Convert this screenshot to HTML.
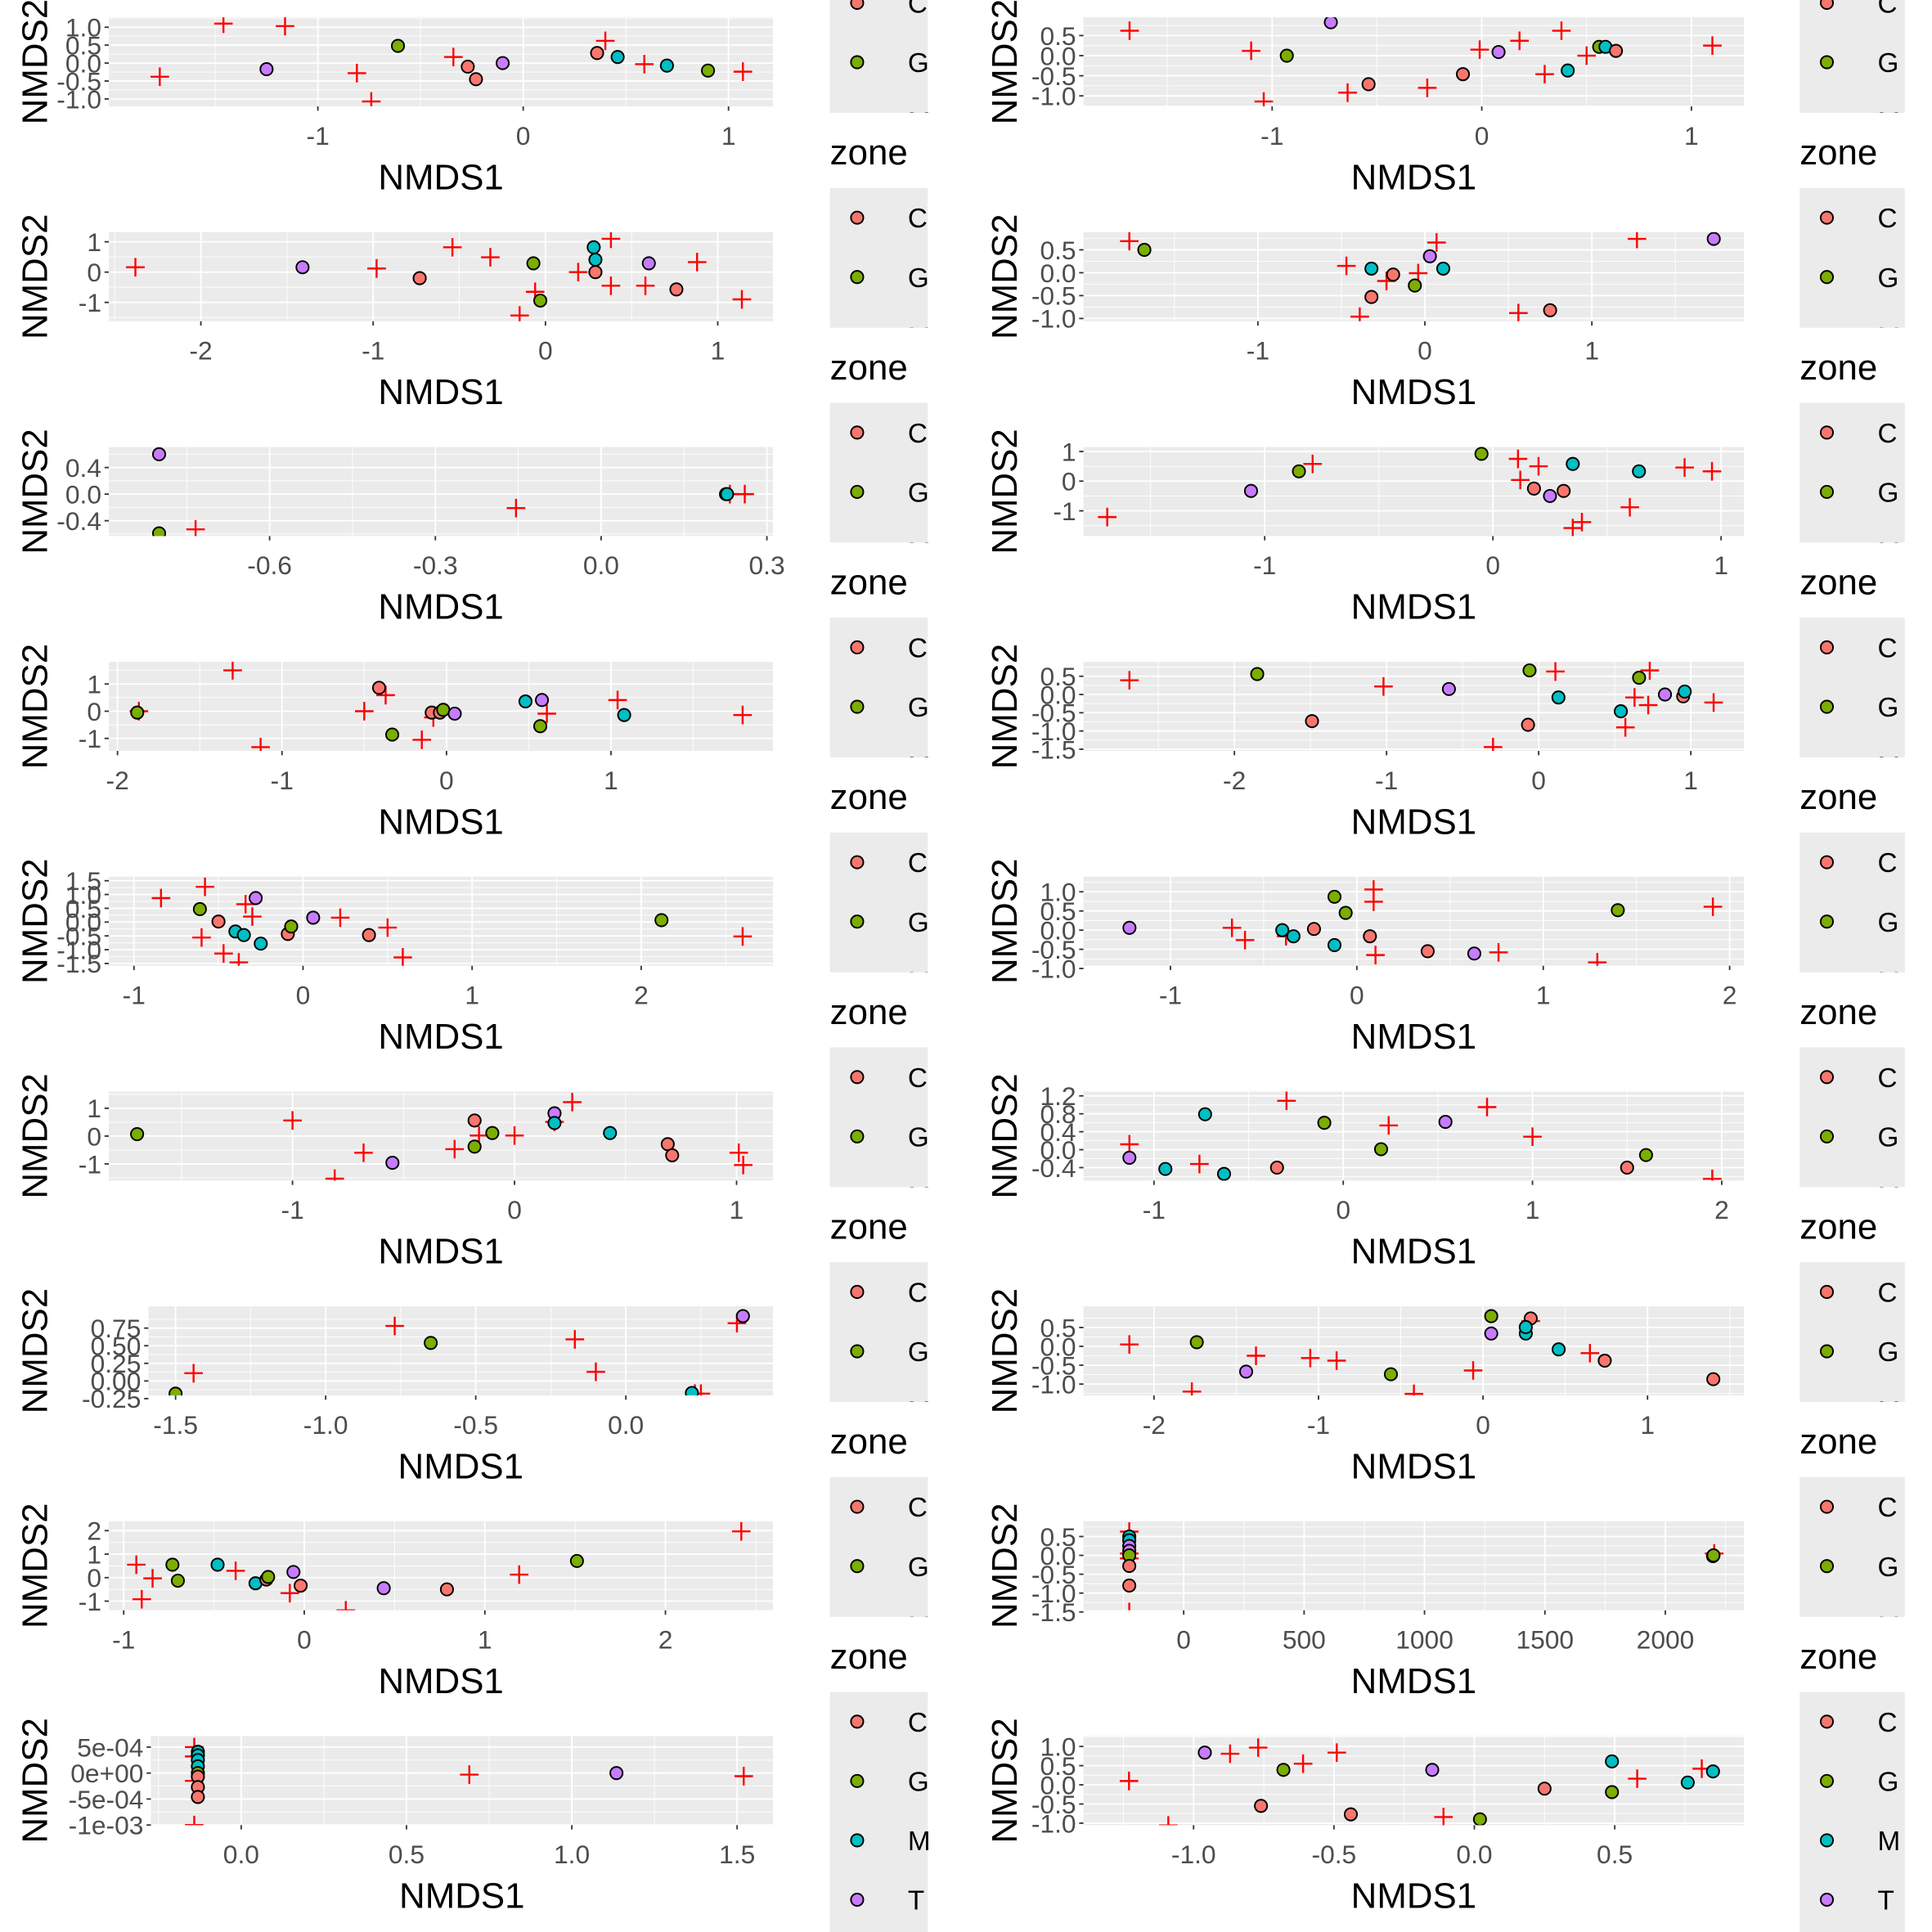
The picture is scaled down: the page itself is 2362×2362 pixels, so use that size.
<!DOCTYPE html>
<html><head><meta charset="utf-8"><style>
html,body{margin:0;padding:0;background:#fff}
svg{display:block}
text{font-family:"Liberation Sans",Arial,sans-serif}
</style></head><body>
<svg id="fig" xmlns="http://www.w3.org/2000/svg" width="2362" height="2362" viewBox="0 0 1562 1562"></svg>
<script>
// ---- data (sites: x, y, zone letter; species crosses: x, y) ----
const P1X=[-1.25,-0.61,-0.27,-0.23,-0.1,0.36,0.46,0.70,0.90];
const P1Y=[-0.17,0.48,-0.1,-0.45,0,0.28,0.17,-0.07,-0.21];
const P1Z="TGCCTCMMG";
const P1SX=[-1.46,-1.16,-1.77,-0.81,-0.74,-0.34,0.40,0.59,1.07];
const P1SY=[1.1,1.03,-0.38,-0.28,-1.07,0.17,0.62,-0.03,-0.24];
const P2X=[-0.72,-0.93,-0.54,-0.09,0.08,0.41,0.56,0.59,0.64];
const P2Y=[0.83,0,-0.71,-0.46,0.09,-0.37,0.22,0.22,0.12];
const P2Z="TGCCTMGMC";
const P2SX=[-1.68,-1.10,-1.04,-0.64,-0.26,-0.01,0.18,0.30,0.38,0.50,1.10];
const P2SY=[0.62,0.12,-1.14,-0.92,-0.8,0.15,0.37,-0.46,0.62,0,0.25];
const P3X=[-1.41,-0.73,-0.07,-0.03,0.28,0.29,0.29,0.60,0.76];
const P3Y=[0.16,-0.2,0.29,-0.94,0.82,0.41,0,0.29,-0.57];
const P3Z="TCGGMMCTC";
const P3SX=[-2.38,-0.98,-0.54,-0.32,-0.15,-0.06,0.19,0.38,0.38,0.58,0.88,1.14];
const P3SY=[0.16,0.12,0.82,0.49,-1.43,-0.65,0,1.1,-0.45,-0.45,0.33,-0.9];
const P4X=[-1.68,-0.32,-0.19,-0.32,-0.06,0.03,0.11,0.75,1.73];
const P4Y=[0.5,0.09,-0.04,-0.53,-0.28,0.36,0.09,-0.82,0.74];
const P4Z="GMCCGTMCT";
const P4SX=[-1.77,-0.47,-0.39,-0.23,-0.04,0.07,0.56,1.27];
const P4SY=[0.69,0.15,-0.96,-0.18,-0.01,0.66,-0.88,0.74];
const P5X=[-0.80,-0.80,0.226,0.228];
const P5Y=[0.6,-0.59,0,0];
const P5Z="TGCM";
const P5SX=[-0.734,-0.154,0.233,0.26];
const P5SY=[-0.53,-0.21,0,0];
const P6X=[-1.06,-0.85,-0.05,0.35,0.64,0.18,0.25,0.31];
const P6Y=[-0.33,0.33,0.92,0.58,0.33,-0.25,-0.5,-0.33];
const P6Z="TGGMMCTC";
const P6SX=[-1.69,-0.79,0.11,0.20,0.12,0.35,0.39,0.60,0.84,0.96];
const P6SY=[-1.21,0.58,0.75,0.5,0.04,-1.58,-1.38,-0.88,0.46,0.33];
const P7X=[-1.88,-0.41,-0.33,-0.09,-0.04,-0.02,0.05,0.48,0.58,0.57,1.08];
const P7Y=[-0.05,0.86,-0.86,-0.05,-0.05,0.05,-0.09,0.36,0.41,-0.55,-0.14];
const P7Z="GCGCCGTMTGM";
const P7SX=[-1.87,-1.30,-1.13,-0.50,-0.37,-0.15,-0.08,0.61,1.04,1.80];
const P7SY=[0,1.5,-1.32,0,0.59,-1.05,-0.23,-0.09,0.41,-0.14];
const P8X=[-1.85,-1.49,-0.59,-0.06,-0.07,0.13,0.54,0.66,0.95,0.83,0.96];
const P8Y=[0.56,-0.73,0.15,0.66,-0.83,-0.08,-0.46,0.46,-0.05,0,0.08];
const P8Z="GCTGCMMGCTM";
const P8SX=[-2.69,-1.02,-0.30,0.11,0.57,0.63,0.72,0.73,1.15];
const P8SY=[0.39,0.22,-1.44,0.63,-0.9,-0.08,-0.29,0.66,-0.22];
const P9X=[-0.28,-0.61,-0.50,-0.40,-0.35,-0.25,-0.09,-0.07,0.06,0.39,2.12];
const P9Y=[0.87,0.47,0.02,-0.34,-0.47,-0.78,-0.43,-0.16,0.16,-0.47,0.07];
const P9Z="TGCMMMCGTCG";
const P9SX=[-0.84,-0.58,-0.34,-0.30,-0.60,-0.47,-0.38,0.22,0.50,0.59,2.60];
const P9SY=[0.87,1.28,0.65,0.2,-0.56,-1.14,-1.46,0.16,-0.2,-1.28,-0.52];
const P10X=[-1.22,-0.12,-0.06,-0.23,-0.40,-0.34,-0.12,0.07,0.38,0.63,1.40];
const P10Y=[0.06,0.87,0.45,0.03,0,-0.16,-0.39,-0.16,-0.55,-0.61,0.52];
const P10Z="TGGCMMMCCTG";
const P10SX=[-0.67,-0.60,-0.38,0.09,0.09,0.10,0.76,1.29,1.91];
const P10SY=[0.06,-0.26,-0.16,1.06,0.74,-0.65,-0.58,-0.84,0.61];
const P11X=[-1.70,-0.55,-0.18,-0.18,-0.10,0.18,0.18,0.43,0.69,0.71];
const P11Y=[0.07,-0.96,0.56,-0.38,0.11,0.82,0.47,0.11,-0.29,-0.69];
const P11Z="GTCGGTMMCC";
const P11SX=[-1.0,-0.81,-0.68,-0.27,-0.16,0,0.18,0.26,1.01,1.03];
const P11SY=[0.56,-1.53,-0.6,-0.47,0.02,0.02,0.51,1.22,-0.6,-1.04];
const P12X=[-1.13,-0.94,-0.73,-0.63,-0.35,-0.10,0.20,0.54,1.50,1.60];
const P12Y=[-0.18,-0.43,0.79,-0.54,-0.4,0.6,0.01,0.62,-0.4,-0.12];
const P12Z="TMMMCGGTCG";
const P12SX=[-1.13,-0.76,-0.30,0.24,0.76,1.0,1.95];
const P12SY=[0.12,-0.32,1.09,0.54,0.95,0.29,-0.65];
const P13X=[-1.50,-0.65,0.22,0.39];
const P13Y=[-0.18,0.54,-0.17,0.92];
const P13Z="GGMT";
const P13SX=[-1.44,-0.77,-0.17,-0.10,0.23,0.25,0.37];
const P13SY=[0.11,0.78,0.59,0.13,-0.18,-0.18,0.82];
const P14X=[-1.74,-1.44,-0.56,0.05,0.29,0.05,0.26,0.26,0.46,0.74,1.40];
const P14Y=[0.11,-0.67,-0.74,0.8,0.74,0.34,0.34,0.51,-0.08,-0.38,-0.87];
const P14Z="GTGGCTMMMCC";
const P14SX=[-2.15,-1.77,-1.38,-1.05,-0.89,-0.42,-0.06,0.29,0.65];
const P14SY=[0.05,-1.2,-0.25,-0.31,-0.38,-1.26,-0.64,0.67,-0.18];
const P15X=[-0.73,-0.70,-0.48,-0.27,-0.21,-0.20,-0.06,-0.02,0.44,0.79,1.51];
const P15Y=[0.55,-0.13,0.55,-0.24,-0.08,0.03,0.24,-0.34,-0.45,-0.5,0.71];
const P15Z="GGMMCGTCTCG";
const P15SX=[-0.93,-0.84,-0.90,-0.38,-0.08,0.23,1.19,2.42];
const P15SY=[0.55,-0.03,-0.92,0.29,-0.66,-1.39,0.13,1.97];
const P16X=[-226,-226,-226,-226,-226,-226,-226,2198,2200];
const P16Y=[0.5,0.4,0.25,0.12,0,-0.28,-0.8,-0.02,0];
const P16Z="MMTTGCCCG";
const P16SX=[-226,-226,-226,-226,2203];
const P16SY=[0.63,0.05,-0.08,-1.5,0.05];
const P17X=[-0.131,-0.131,-0.131,-0.131,-0.131,-0.131,-0.131,-0.131,1.135];
const P17Y=[4.1e-4,3.4e-4,2.5e-4,1.3e-4,0,-0.7e-4,-2.7e-4,-4.6e-4,0];
const P17Z="MMMMGCCCT";
const P17SX=[-0.142,-0.142,-0.142,-0.142,0.69,1.52];
const P17SY=[5e-4,3.2e-4,-1.5e-4,-1e-3,-0.3e-4,-0.6e-4];
const P18X=[-0.96,-0.68,-0.76,-0.44,-0.15,0.25,0.49,0.49,0.76,0.85,0.02];
const P18Y=[0.84,0.39,-0.55,-0.77,0.39,-0.1,0.61,-0.19,0.06,0.35,-0.9];
const P18Z="TGCCTCMGMMG";
const P18SX=[-1.23,-1.09,-0.87,-0.77,-0.61,-0.49,-0.11,0.58,0.81];
const P18SY=[0.1,-1.06,0.81,0.97,0.55,0.84,-0.84,0.16,0.42];
// tick values / labels
const XT=[[-1,0,1],[-1,0,1],[-2,-1,0,1],[-1,0,1],[-0.6,-0.3,0,0.3],[-1,0,1],[-2,-1,0,1],[-2,-1,0,1],[-1,0,1,2],[-1,0,1,2],[-1,0,1],[-1,0,1,2],[-1.5,-1,-0.5,0],[-2,-1,0,1],[-1,0,1,2],[0,500,1000,1500,2000],[0,0.5,1,1.5],[-1,-0.5,0,0.5]];
const XL=[["-1","0","1"],["-1","0","1"],["-2","-1","0","1"],["-1","0","1"],["-0.6","-0.3","0.0","0.3"],["-1","0","1"],["-2","-1","0","1"],["-2","-1","0","1"],["-1","0","1","2"],["-1","0","1","2"],["-1","0","1"],["-1","0","1","2"],["-1.5","-1.0","-0.5","0.0"],["-2","-1","0","1"],["-1","0","1","2"],["0","500","1000","1500","2000"],["0.0","0.5","1.0","1.5"],["-1.0","-0.5","0.0","0.5"]];
const YT=[[-1,-0.5,0,0.5,1],[-1,-0.5,0,0.5],[-1,0,1],[-1,-0.5,0,0.5],[-0.4,0,0.4],[-1,0,1],[-1,0,1],[-1.5,-1,-0.5,0,0.5],[-1.5,-1,-0.5,0,0.5,1,1.5],[-1,-0.5,0,0.5,1],[-1,0,1],[-0.4,0,0.4,0.8,1.2],[-0.25,0,0.25,0.5,0.75],[-1,-0.5,0,0.5],[-1,0,1,2],[-1.5,-1,-0.5,0,0.5],[-1e-3,-5e-4,0,5e-4],[-1,-0.5,0,0.5,1]];
const YL=[["-1.0","-0.5","0.0","0.5","1.0"],["-1.0","-0.5","0.0","0.5"],["-1","0","1"],["-1.0","-0.5","0.0","0.5"],["-0.4","0.0","0.4"],["-1","0","1"],["-1","0","1"],["-1.5","-1.0","-0.5","0.0","0.5"],["-1.5","-1.0","-0.5","0.0","0.5","1.0","1.5"],["-1.0","-0.5","0.0","0.5","1.0"],["-1","0","1"],["-0.4","0.0","0.4","0.8","1.2"],["-0.25","0.00","0.25","0.50","0.75"],["-1.0","-0.5","0.0","0.5"],["-1","0","1","2"],["-1.5","-1.0","-0.5","0.0","0.5"],["-1e-03","-5e-04","0e+00","5e-04"],["-1.0","-0.5","0.0","0.5","1.0"]];
const ZONES=["C","G","M","T"];
const ZCOL={C:"#F8766D",G:"#7CAE00",M:"#00BFC4",T:"#C77CFF"};
// axis scale params per panel: [plotLeft, zeroPxX, pxPerUnitX, zeroPxY, pxPerUnitY]
const SC=[[88,423,166,51,29],[876,1198,169.5,45,32.5],[88,441,139.3,220,24.5],[876,1152,135,220.5,37],[88,486,446.7,399.5,53.75],[876,1207,184.5,389,24],[88,361,133,575,22],[876,1244,123,561.5,29.5],[88,245,136.7,745.5,22.3],[876,1097,150.7,752,31],[88,416,179.5,918.5,22.5],[876,1086,153,929.5,36.25],[120,506,242.7,1116.5,57],[876,1199,133,1088.5,30.5],[88,246,146,1275.5,19],[876,957,0.1947,1257.5,30.5],[122,195,267.3,1433.5,42000],[876,1192,227,1443,31]];
const D=[[P1X,P1Y,P1Z,P1SX,P1SY],[P2X,P2Y,P2Z,P2SX,P2SY],[P3X,P3Y,P3Z,P3SX,P3SY],[P4X,P4Y,P4Z,P4SX,P4SY],[P5X,P5Y,P5Z,P5SX,P5SY],[P6X,P6Y,P6Z,P6SX,P6SY],[P7X,P7Y,P7Z,P7SX,P7SY],[P8X,P8Y,P8Z,P8SX,P8SY],[P9X,P9Y,P9Z,P9SX,P9SY],[P10X,P10Y,P10Z,P10SX,P10SY],[P11X,P11Y,P11Z,P11SX,P11SY],[P12X,P12Y,P12Z,P12SX,P12SY],[P13X,P13Y,P13Z,P13SX,P13SY],[P14X,P14Y,P14Z,P14SX,P14SY],[P15X,P15Y,P15Z,P15SX,P15SY],[P16X,P16Y,P16Z,P16SX,P16SY],[P17X,P17Y,P17Z,P17SX,P17SY],[P18X,P18Y,P18Z,P18SX,P18SY]];

const NS="http://www.w3.org/2000/svg";
const svg=document.getElementById('fig');
function mk(tag,attrs,parent){const e=document.createElementNS(NS,tag);for(const k in attrs)e.setAttribute(k,attrs[k]);(parent||svg).appendChild(e);return e;}
const defs=mk('defs',{});
const ROWH=173.7;

for(let p=0;p<18;p++){
  const row=Math.floor(p/2), col=p%2;
  const [L,xz,xs,yz,ys]=SC[p];
  const R=col?1410:625, T=14+ROWH*row, B=86+ROWH*row;
  const sx=v=>xz+v*xs, sy=v=>yz-v*ys;
  const g=mk('g',{});
  
  
  const bg=mk('rect',{x:L,y:T,width:R-L,height:B-T,fill:'#EBEBEB'},g);
  
  
  const cp=mk('clipPath',{id:'cp'+p},defs);mk('rect',{x:L,y:T,width:R-L,height:B-T},cp);
  const grid=mk('g',{'clip-path':'url(#cp'+p+')'},g);
  
  
  const xt=XT[p], yt=YT[p];
  const dx=xt[1]-xt[0], dy=yt[1]-yt[0];
  for(let v=xt[0]-dx*3;v<=xt[xt.length-1]+dx*3;v+=dx){const m=sx(v+dx/2);mk('line',{x1:m,x2:m,y1:T,y2:B,stroke:'#fff','stroke-width':0.6},grid);}
  for(let v=yt[0]-dy*3;v<=yt[yt.length-1]+dy*3;v+=dy){const m=sy(v+dy/2);mk('line',{x1:L,x2:R,y1:m,y2:m,stroke:'#fff','stroke-width':0.6},grid);}
  xt.forEach((v,i)=>{const x=sx(v);mk('line',{x1:x,x2:x,y1:T,y2:B,stroke:'#fff','stroke-width':1.2},grid);
    mk('line',{x1:x,x2:x,y1:B,y2:B+3.5,stroke:'#333','stroke-width':1.2},g);
    const t=mk('text',{x:x,y:B+31,'font-size':21,fill:'#4D4D4D','text-anchor':'middle'},g);t.textContent=XL[p][i];
    
    });
  yt.forEach((v,i)=>{const y=sy(v);mk('line',{x1:L,x2:R,y1:y,y2:y,stroke:'#fff','stroke-width':1.2},grid);
    mk('line',{x1:L-3.5,x2:L,y1:y,y2:y,stroke:'#333','stroke-width':1.2},g);
    const t=mk('text',{x:L-6,y:y+7.5,'font-size':21,fill:'#4D4D4D','text-anchor':'end'},g);t.textContent=YL[p][i];
    
    });
  const marks=mk('g',{'clip-path':'url(#cp'+p+')'},g);
  const [X,Y,Z,SX,SY]=D[p];
  SX.forEach((v,i)=>{const x=sx(v),y=sy(SY[i]);
    const c=mk('path',{d:`M${x-7.5},${y}H${x+7.5}M${x},${y-7.5}V${y+7.5}`,stroke:'#FF0000','stroke-width':1.6,fill:'none'},marks);
    
    });
  X.forEach((v,i)=>{
    const c=mk('circle',{cx:sx(v),cy:sy(Y[i]),r:5,fill:ZCOL[Z[i]],stroke:'#000','stroke-width':1.3},marks);
    
    });
  const xl=mk('text',{x:(L+R)/2,y:B+67,'font-size':29,fill:'#000','text-anchor':'middle'},g);xl.textContent='NMDS1';
  
  
  const axx=col?812:28, cy=(T+B)/2;
  const yl=mk('text',{x:axx,y:cy,'font-size':29,fill:'#000','text-anchor':'middle',transform:`rotate(-90 ${axx} ${cy}) translate(0 10)`},g);yl.textContent='NMDS2';
  
  
  // legend
  const lx=col?1455:671;
  const TT=123+ROWH*(row-1);
  const clipB=row===8?1562:TT+142;
  const lc=mk('clipPath',{id:'lc'+p},defs);mk('rect',{x:lx-5,y:TT-40,width:120,height:clipB-(TT-40)},lc);
  const lg=mk('g',{'clip-path':'url(#lc'+p+')'},g);
  
  
  const tt=mk('text',{x:lx,y:TT+10,'font-size':29,fill:'#000'},lg);tt.textContent='zone';
  
  
  mk('rect',{x:lx,y:TT+29,width:col?85:79,height:220,fill:'#EBEBEB'},lg);
  ZONES.forEach((z,i)=>{const ky=TT+53+48*i;
    const k=mk('circle',{cx:lx+22,cy:ky,r:5,fill:ZCOL[z],stroke:'#000','stroke-width':1.3},lg);
    
    
    const t=mk('text',{x:lx+63,y:ky+8,'font-size':22,fill:'#000'},lg);t.textContent=z;
    
    });
}
</script>
</body></html>
